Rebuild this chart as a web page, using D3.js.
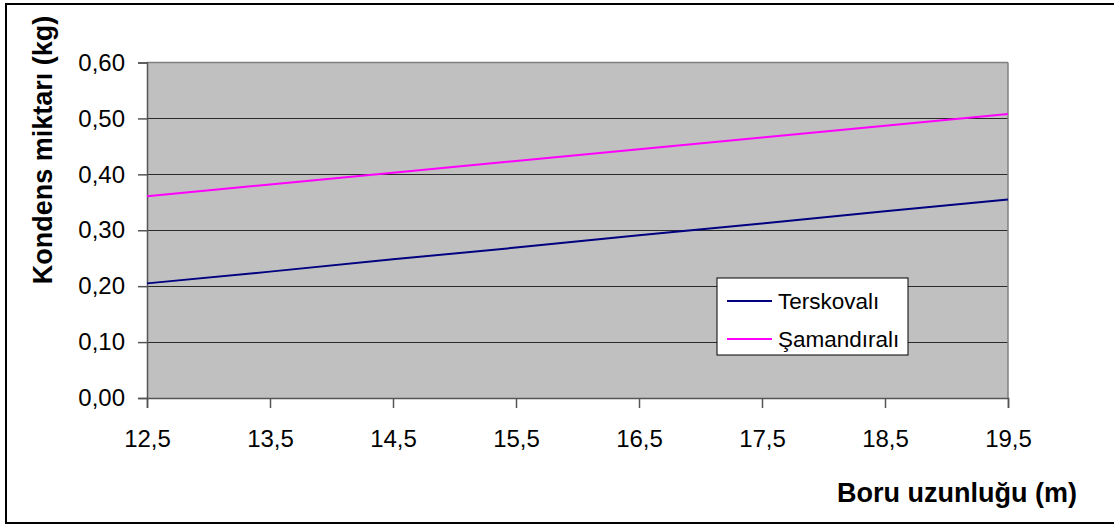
<!DOCTYPE html>
<html>
<head>
<meta charset="utf-8">
<script src="https://cdn.jsdelivr.net/npm/d3@7"></script>
<style>
  html, body { margin: 0; padding: 0; background: #fff; }
  svg { display: block; font-family: "Liberation Sans", Arial, sans-serif; }
</style>
</head>
<body>
<svg id="chart" width="1114" height="525"></svg>
<script>
// Pipe length (m) on the x axis
const lengths = [12.5, 13.5, 14.5, 15.5, 16.5, 17.5, 18.5, 19.5];
// Condensate amount (kg) for each trap type
const terskovali = [0.205, 0.226, 0.248, 0.269, 0.291, 0.312, 0.334, 0.355];
const samandirali = [0.361, 0.382, 0.403, 0.424, 0.445, 0.466, 0.487, 0.508];
const seriesNames = ["Terskovalı", "Şamandıralı"];
const seriesColors = ["#000080", "#ff00ff"];
const yTicks = [0, 0.1, 0.2, 0.3, 0.4, 0.5, 0.6];

const svg = d3.select("#chart");
const plot = { left: 147, right: 1008, top: 62.5, bottom: 398 };

// Outer frame
svg.append("rect")
  .attr("x", 6).attr("y", 4).attr("width", 1112).attr("height", 519)
  .attr("fill", "#fff").attr("stroke", "#000").attr("stroke-width", 2);

const x = d3.scaleLinear().domain([12.5, 19.5]).range([plot.left, plot.right]);
const y = d3.scaleLinear().domain([0, 0.6]).range([plot.bottom, plot.top]);
const fmt = v => d3.format(".2f")(v).replace(".", ",");
const fmtX = v => d3.format(".1f")(v).replace(".", ",");

// Plot background
svg.append("rect")
  .attr("x", plot.left).attr("y", plot.top)
  .attr("width", plot.right - plot.left).attr("height", plot.bottom - plot.top)
  .attr("fill", "#c0c0c0");

// Horizontal gridlines
svg.append("g").selectAll("line")
  .data(yTicks.filter(t => t > 0 && t < 0.6))
  .join("line")
  .attr("x1", plot.left).attr("x2", plot.right)
  .attr("y1", d => Math.round(y(d)) + 0.5).attr("y2", d => Math.round(y(d)) + 0.5)
  .attr("stroke", "#2a2a2a").attr("stroke-width", 1.2);

// Top and right frame of the plot area
svg.append("line")
  .attr("x1", plot.left).attr("x2", plot.right)
  .attr("y1", y(0.6)).attr("y2", y(0.6))
  .attr("stroke", "#808080").attr("stroke-width", 1.5);
svg.append("line")
  .attr("x1", plot.right).attr("x2", plot.right)
  .attr("y1", plot.top).attr("y2", plot.bottom)
  .attr("stroke", "#808080").attr("stroke-width", 1.5);

// Y axis
const yAxis = svg.append("g")
  .attr("transform", `translate(${plot.left},0)`)
  .call(d3.axisLeft(y).tickValues(yTicks).tickFormat(fmt).tickSize(9).tickPadding(13));
yAxis.selectAll("path, line").attr("stroke", "#555").attr("stroke-width", 1.5);
yAxis.selectAll("text").attr("font-size", 24).attr("fill", "#000")
  .attr("font-family", "'Liberation Sans', Arial, sans-serif");

// X axis
const xAxis = svg.append("g")
  .attr("transform", `translate(0,${plot.bottom})`)
  .call(d3.axisBottom(x).tickValues(lengths).tickFormat(fmtX).tickSize(10).tickPadding(22));
xAxis.selectAll("path, line").attr("stroke", "#555").attr("stroke-width", 1.5);
xAxis.selectAll("text").attr("font-size", 24).attr("fill", "#000")
  .attr("font-family", "'Liberation Sans', Arial, sans-serif");

// Series lines
const line = d3.line().x((d, i) => x(lengths[i])).y(d => y(d));
[terskovali, samandirali].forEach((vals, k) => {
  svg.append("path")
    .datum(vals)
    .attr("d", line)
    .attr("fill", "none")
    .attr("stroke", seriesColors[k])
    .attr("stroke-width", 2);
});

// Axis titles
svg.append("text")
  .attr("x", 1077).attr("y", 502)
  .attr("text-anchor", "end")
  .attr("font-size", 27).attr("font-weight", "bold")
  .text("Boru uzunluğu (m)");
svg.append("text")
  .attr("transform", "translate(52,150) rotate(-90)")
  .attr("text-anchor", "middle")
  .attr("font-size", 27).attr("font-weight", "bold")
  .text("Kondens miktarı (kg)");

// Legend
const legend = svg.append("g").attr("transform", "translate(717,278)");
legend.append("rect")
  .attr("width", 191).attr("height", 77)
  .attr("fill", "#fff").attr("stroke", "#000").attr("stroke-width", 1);
seriesNames.forEach((name, i) => {
  const cy = 23 + i * 38;
  legend.append("line")
    .attr("x1", 10).attr("x2", 55).attr("y1", cy).attr("y2", cy)
    .attr("stroke", seriesColors[i]).attr("stroke-width", 2);
  legend.append("text")
    .attr("x", 61).attr("y", cy).attr("dy", "0.36em")
    .attr("font-size", 22.5)
    .text(name);
});
</script>
</body>
</html>
